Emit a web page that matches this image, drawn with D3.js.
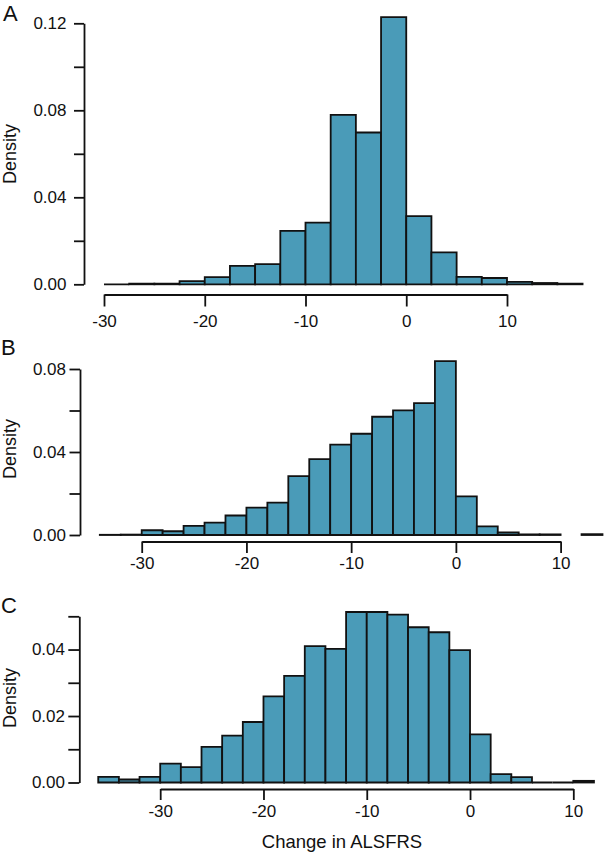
<!DOCTYPE html>
<html><head><meta charset="utf-8">
<script src="https://cdn.jsdelivr.net/npm/d3@7/dist/d3.min.js"></script>
<style>body{margin:0;background:#fff}</style>
</head><body>
<svg id="c" width="606" height="853" xmlns="http://www.w3.org/2000/svg"></svg>
<script>
// ---- data ----
const xTicks = [-30, -20, -10, 0, 10];

// Panel A: bin width 2.5, from -30 to 17.5
const binStartA = [-30, -27.5, -25, -22.5, -20, -17.5, -15, -12.5, -10, -7.5, -5, -2.5, 0, 2.5, 5, 7.5, 10, 12.5, 15];
const densityA  = [0.0000, 0.0003, 0.0003, 0.0015, 0.0033, 0.0085, 0.0093, 0.0246, 0.0284, 0.0779, 0.0698, 0.1228, 0.0313, 0.0147, 0.0034, 0.0029, 0.0011, 0.0006, 0.0003];
const binWidthA = 2.5;
const yTicksA = [0, 0.02, 0.04, 0.06, 0.08, 0.10, 0.12];
const yLabelsA = [0, 0.04, 0.08, 0.12];

// Panel B: bin width 2, from -34 to 14
const binStartB = [-34, -32, -30, -28, -26, -24, -22, -20, -18, -16, -14, -12, -10, -8, -6, -4, -2, 0, 2, 4, 6, 8, 10, 12];
const densityB  = [0.0001, 0.0002, 0.0023, 0.0018, 0.0044, 0.0060, 0.0094, 0.0132, 0.0156, 0.0284, 0.0366, 0.0436, 0.0488, 0.0570, 0.0601, 0.0636, 0.0838, 0.0186, 0.0042, 0.0012, 0.0003, 0.0003, null, 0.0004];
const binWidthB = 2;
const yTicksB = [0, 0.02, 0.04, 0.06, 0.08];
const yLabelsB = [0, 0.04, 0.08];

// Panel C: bin width 2, from -36 to 12
const binStartC = [-36, -34, -32, -30, -28, -26, -24, -22, -20, -18, -16, -14, -12, -10, -8, -6, -4, -2, 0, 2, 4, 6, 8, 10];
const densityC  = [0.0017, 0.0009, 0.0017, 0.0057, 0.0046, 0.0107, 0.0141, 0.0182, 0.0259, 0.0321, 0.0410, 0.0402, 0.0513, 0.0513, 0.0505, 0.0467, 0.0452, 0.0398, 0.0145, 0.0025, 0.0016, 0, 0, 0.0005];
const binWidthC = 2;
const yTicksC = [0, 0.01, 0.02, 0.03, 0.04, 0.05];
const yLabelsC = [0, 0.02, 0.04];

const panelLetters = ["A", "B", "C"];
const yTitle = "Density";
const xTitle = "Change in ALSFRS";

// ---- layout ----
const FONT = "'Liberation Sans', Arial, Helvetica, sans-serif";
const FILL = "#4a9bb8";
const INK = "#111";
const LW = 1.8;

const panels = [
  { letter: panelLetters[0], starts: binStartA, dens: densityA, bw: binWidthA,
    yTicks: yTicksA, yLabels: yLabelsA, yMax: 0.12,
    xRange: [104, 507], yRange: [284.3, 23.3],
    yAxisX: 84, yTick: 10, yPad: 7.5, xAxisY: 294.5, xTick: 12, xLabTop: 20,
    letterPos: [3, 21], titleY: 154 },
  { letter: panelLetters[1], starts: binStartB, dens: densityB, bw: binWidthB,
    yTicks: yTicksB, yLabels: yLabelsB, yMax: 0.08,
    xRange: [141.7, 560.6], yRange: [535, 369],
    yAxisX: 80, yTick: 10.5, yPad: 3.5, xAxisY: 541.5, xTick: 11.5, xLabTop: 15.5,
    letterPos: [1, 355], titleY: 449 },
  { letter: panelLetters[2], starts: binStartC, dens: densityC, bw: binWidthC,
    yTicks: yTicksC, yLabels: yLabelsC, yMax: 0.05,
    xRange: [160.2, 573.3], yRange: [782.5, 616.3],
    yAxisX: 79.3, yTick: 11, yPad: 3.3, xAxisY: 789, xTick: 11, xLabTop: 16,
    letterPos: [1, 613], titleY: 698 }
];

const svg = d3.select("#c");
svg.append("rect").attr("width", 606).attr("height", 853).attr("fill", "#fff");

panels.forEach(p => {
  const x = d3.scaleLinear().domain([-30, 10]).range(p.xRange);
  const y = d3.scaleLinear().domain([0, p.yMax]).range(p.yRange);

  // bars (paths so zero-height bins still show as a line)
  const bars = p.starts.map((s, i) => ({ x0: s, x1: s + p.bw, d: p.dens[i] }))
    .filter(b => b.d !== null);
  svg.append("g").selectAll("path").data(bars).join("path")
    .attr("d", b => {
      const X0 = x(b.x0), X1 = x(b.x1), Y0 = y(0), Y1 = y(b.d);
      return `M${X0},${Y0}V${Y1}H${X1}V${Y0}Z`;
    })
    .attr("fill", FILL).attr("stroke", INK).attr("stroke-width", LW)
    .attr("stroke-linejoin", "miter");

  // y axis
  const fmt = d3.format(".2f");
  const gy = svg.append("g").attr("transform", `translate(${p.yAxisX},0)`)
    .call(d3.axisLeft(y).tickValues(p.yTicks).tickSize(p.yTick).tickSizeOuter(0)
      .tickPadding(p.yPad)
      .tickFormat(d => p.yLabels.some(v => Math.abs(v - d) < 1e-9) ? fmt(d) : ""));
  gy.select(".domain").attr("stroke", INK).attr("stroke-width", LW);
  gy.selectAll(".tick line").attr("stroke", INK).attr("stroke-width", LW);
  gy.selectAll("text").attr("font-family", FONT).attr("font-size", 17).attr("fill", INK);

  // x axis (ASCII hyphen for negatives, as in the reference)
  const gx = svg.append("g").attr("transform", `translate(0,${p.xAxisY})`)
    .call(d3.axisBottom(x).tickValues(xTicks).tickSize(p.xTick).tickSizeOuter(0)
      .tickPadding(p.xLabTop - p.xTick).tickFormat(d => String(d)));
  gx.select(".domain").attr("stroke", INK).attr("stroke-width", LW);
  gx.selectAll(".tick line").attr("stroke", INK).attr("stroke-width", LW);
  gx.selectAll("text").attr("font-family", FONT).attr("font-size", 17).attr("fill", INK);

  // y title
  svg.append("text")
    .attr("transform", `translate(16,${p.titleY}) rotate(-90)`)
    .attr("text-anchor", "middle")
    .attr("font-family", FONT).attr("font-size", 18).attr("fill", INK)
    .text(yTitle);

  // panel letter
  svg.append("text").attr("x", p.letterPos[0]).attr("y", p.letterPos[1])
    .attr("font-family", FONT).attr("font-size", 22).attr("fill", INK)
    .text(p.letter);
});

// x title
svg.append("text").attr("x", 342).attr("y", 848)
  .attr("text-anchor", "middle")
  .attr("font-family", FONT).attr("font-size", 18.5).attr("fill", INK)
  .text(xTitle);
</script>
</body></html>
